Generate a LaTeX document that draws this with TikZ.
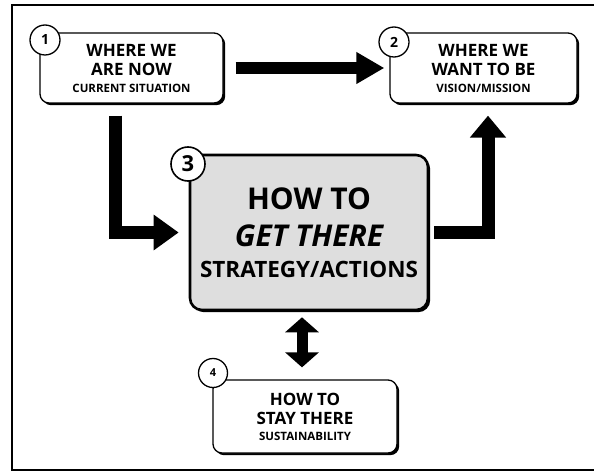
\documentclass[tikz,border=0pt]{standalone}
\usepackage{fontspec}
\setmainfont{Open Sans}
\usetikzlibrary{arrows.meta,shadows,calc}
\newcommand{\lsmall}{\fontsize{11.5}{19}\selectfont}
\newcommand{\hmid}{\fontsize{22.5}{38}\selectfont}
\tikzset{
  box/.style={draw, line width=1.3pt, rounded corners=9pt, fill=white,
    general shadow={fill=black, shadow xshift=2.2pt, shadow yshift=-2.2pt},
    align=center, inner sep=0pt, font=\bfseries\fontsize{17}{19}\selectfont},
  bigbox/.style={box, line width=2.6pt, fill=black!13, rounded corners=12pt,
    font=\bfseries\fontsize{30}{37}\selectfont},
  num/.style={circle, draw, line width=1.3pt, fill=white, minimum size=30pt,
    inner sep=0pt, font=\bfseries\fontsize{14}{14}\selectfont},
  fat/.style={line width=12pt, -{Triangle[length=28pt,width=30pt]}},
  frame/.style={line width=2.5pt},
}
\begin{document}
\begin{tikzpicture}[x=1pt,y=-1pt]
\useasboundingbox (0,0) rectangle (594,473);
\draw[frame] (600,5) -- (12,5) -- (12,470) -- (600,470);

\node[box, minimum width=183pt, minimum height=70pt] (n1) at (131.5,68)
  {WHERE WE\\ ARE NOW\\[-2pt] \lsmall CURRENT SITUATION};
\node[box, minimum width=187pt, minimum height=70pt] (n2) at (483.5,68)
  {WHERE WE\\ WANT TO BE\\[-2pt] \lsmall VISION/MISSION};
\node[bigbox, minimum width=238pt, minimum height=155pt] (n3) at (309,232.5)
  {HOW TO\\ \itshape GET THERE\\[-6pt] \hmid STRATEGY/ACTIONS};
\node[box, minimum width=184pt, minimum height=73pt] (n4) at (305,416.5)
  {HOW TO\\ STAY THERE\\[-3pt] \lsmall SUSTAINABILITY};

\node[num] (c1) at (45,40) {1};
\node[num] (c2) at (394,42) {2};
\node[num, minimum size=34pt, line width=1.6pt, font=\bfseries\fontsize{22}{22}\selectfont] (c3) at (188,164) {3};
\node[num, minimum size=29pt, font=\bfseries\fontsize{11}{11}\selectfont] (c4) at (213,373) {4};

\draw[fat, shorten <=12pt, shorten >=5pt] (n1.east) -- (n2.west);
\draw[line width=13pt, -{Triangle[length=25pt,width=34pt]}, shorten <=12pt, shorten >=10pt]
  ($(n1.south)+(-16.5,0)$) |- (n3.west);
\draw[line width=13pt, -{Triangle[length=22pt,width=35pt]}, shorten <=5pt, shorten >=12pt]
  (n3.east) -| ($(n2.south)+(4.5,0)$);
\draw[line width=11pt, {Triangle[length=15pt,width=33pt]}-{Triangle[length=15pt,width=33pt]},
  shorten <=6pt, shorten >=12pt]
  ($(n3.south)+(-7,0)$) -- ($(n3.south |- n4.north)+(-7,0)$);
\end{tikzpicture}
\end{document}
